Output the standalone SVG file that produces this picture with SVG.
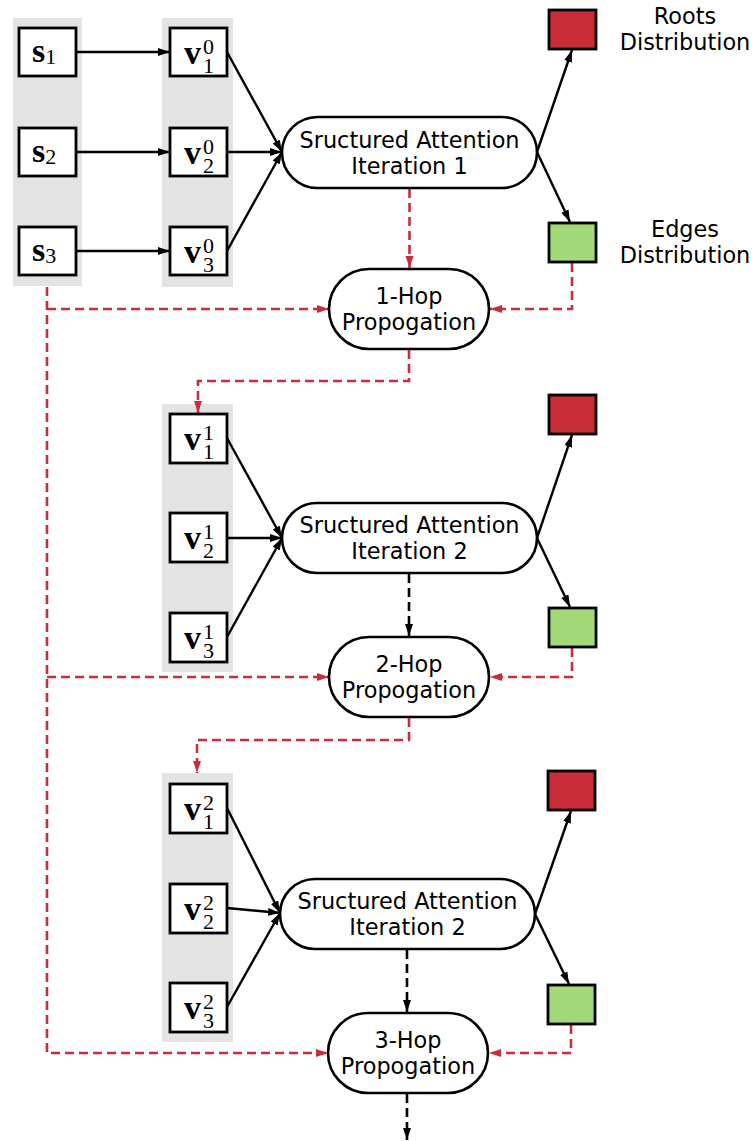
<svg xmlns="http://www.w3.org/2000/svg" width="754" height="1141" viewBox="0 0 754 1141">
<style>
.strip{fill:#e3e3e3}
.box{fill:#fff;stroke:#000;stroke-width:2.8}
.stad{fill:#fff;stroke:#000;stroke-width:2.6}
.red{fill:#c92d39;stroke:#000;stroke-width:2.8}
.green{fill:#a3d977;stroke:#000;stroke-width:2.8}
.lbl{font-family:"DejaVu Sans",Verdana,sans-serif;font-size:22.4px;fill:#000;text-anchor:middle}
.m{font-family:"Liberation Serif","Times New Roman",serif;fill:#000}
.mb{font-size:34px;font-weight:bold}
.ms{font-size:22px}
.c{fill:none;stroke:#000;stroke-width:2.4}
.cd{fill:none;stroke:#000;stroke-width:2.6;stroke-dasharray:9,5}
.rd{fill:none;stroke:#c92d39;stroke-width:2.6;stroke-dasharray:9,5}
</style>
<defs>
<marker id="ab" markerUnits="userSpaceOnUse" markerWidth="13" markerHeight="9" refX="12" refY="4" orient="auto"><path d="M0,0 L12,4 L0,8 z" fill="#000"/></marker>
<marker id="ar" markerUnits="userSpaceOnUse" markerWidth="13" markerHeight="9" refX="12" refY="4" orient="auto"><path d="M0,0 L12,4 L0,8 z" fill="#c92d39"/></marker>
</defs>

<g id="strips">
<rect class="strip" x="13" y="18" width="69" height="268"/>
<rect class="strip" x="162" y="18" width="71" height="269"/>
<rect class="strip" x="162" y="404" width="71" height="268"/>
<rect class="strip" x="162" y="773" width="71" height="269"/>
</g>

<g id="connectors">
<line class="c" x1="76" y1="52" x2="170" y2="52" marker-end="url(#ab)"/>
<line class="c" x1="76" y1="152" x2="170" y2="152" marker-end="url(#ab)"/>
<line class="c" x1="76" y1="251" x2="170" y2="251" marker-end="url(#ab)"/>
<line class="c" x1="227" y1="52" x2="282" y2="152" marker-end="url(#ab)"/>
<line class="c" x1="227" y1="152" x2="282" y2="152" marker-end="url(#ab)"/>
<line class="c" x1="227" y1="251" x2="282" y2="152" marker-end="url(#ab)"/>
<line class="c" x1="227" y1="438" x2="282" y2="538" marker-end="url(#ab)"/>
<line class="c" x1="227" y1="538" x2="282" y2="538" marker-end="url(#ab)"/>
<line class="c" x1="227" y1="637" x2="282" y2="538" marker-end="url(#ab)"/>
<line class="c" x1="227" y1="808" x2="280" y2="913" marker-end="url(#ab)"/>
<line class="c" x1="227" y1="908" x2="280" y2="913" marker-end="url(#ab)"/>
<line class="c" x1="227" y1="1007" x2="280" y2="913" marker-end="url(#ab)"/>
<line class="c" x1="537" y1="152" x2="572" y2="50" marker-end="url(#ab)"/>
<line class="c" x1="537" y1="152" x2="570" y2="222" marker-end="url(#ab)"/>
<line class="c" x1="537" y1="538" x2="572" y2="435" marker-end="url(#ab)"/>
<line class="c" x1="537" y1="538" x2="570" y2="607" marker-end="url(#ab)"/>
<line class="c" x1="535" y1="914" x2="571" y2="811" marker-end="url(#ab)"/>
<line class="c" x1="535" y1="914" x2="569" y2="984" marker-end="url(#ab)"/>
<line class="rd" x1="409.5" y1="189" x2="409.5" y2="268" marker-end="url(#ar)"/>
<line class="cd" x1="409" y1="574" x2="409" y2="636" marker-end="url(#ab)"/>
<line class="cd" x1="407" y1="950" x2="407" y2="1012" marker-end="url(#ab)"/>
<line class="cd" x1="407" y1="1094" x2="407" y2="1140" marker-end="url(#ab)"/>
<polyline class="rd" points="572,263 572,309 490,309" marker-end="url(#ar)"/>
<polyline class="rd" points="572,648 572,677 490,677" marker-end="url(#ar)"/>
<polyline class="rd" points="571,1025 571,1053 489,1053" marker-end="url(#ar)"/>
<polyline class="rd" points="47,287 47,1053 328,1053" marker-end="url(#ar)"/>
<line class="rd" x1="47" y1="309" x2="329" y2="309" marker-end="url(#ar)"/>
<line class="rd" x1="47" y1="677" x2="329" y2="677" marker-end="url(#ar)"/>
<polyline class="rd" points="409,350 409,381 198,381 198,413" marker-end="url(#ar)"/>
<polyline class="rd" points="409,718 409,740 197,740 197,773" marker-end="url(#ar)"/>
</g>

<g id="s1"><rect class="box" x="19" y="28" width="57" height="48"/><text class="m" x="32" y="62"><tspan class="mb">s</tspan><tspan class="ms" dy="2">1</tspan></text></g>
<g id="s2"><rect class="box" x="19" y="128" width="57" height="48"/><text class="m" x="32" y="162"><tspan class="mb">s</tspan><tspan class="ms" dy="2">2</tspan></text></g>
<g id="s3"><rect class="box" x="19" y="227" width="57" height="48"/><text class="m" x="32" y="261"><tspan class="mb">s</tspan><tspan class="ms" dy="2">3</tspan></text></g>

<g id="v01"><rect class="box" x="170" y="28" width="57" height="48"/><text class="m mb" x="184" y="64">v</text><text class="m ms" x="203" y="54">0</text><text class="m ms" x="203" y="73">1</text></g>
<g id="v02"><rect class="box" x="170" y="128" width="57" height="48"/><text class="m mb" x="184" y="164">v</text><text class="m ms" x="203" y="154">0</text><text class="m ms" x="203" y="173">2</text></g>
<g id="v03"><rect class="box" x="170" y="227" width="57" height="48"/><text class="m mb" x="184" y="263">v</text><text class="m ms" x="203" y="253">0</text><text class="m ms" x="203" y="272">3</text></g>

<g id="v11"><rect class="box" x="170" y="414" width="57" height="49"/><text class="m mb" x="184" y="450">v</text><text class="m ms" x="203" y="440">1</text><text class="m ms" x="203" y="459">1</text></g>
<g id="v12"><rect class="box" x="170" y="513" width="57" height="49"/><text class="m mb" x="184" y="549">v</text><text class="m ms" x="203" y="539">1</text><text class="m ms" x="203" y="558">2</text></g>
<g id="v13"><rect class="box" x="170" y="613" width="57" height="49"/><text class="m mb" x="184" y="649">v</text><text class="m ms" x="203" y="639">1</text><text class="m ms" x="203" y="658">3</text></g>

<g id="v21"><rect class="box" x="170" y="784" width="57" height="49"/><text class="m mb" x="184" y="820">v</text><text class="m ms" x="203" y="810">2</text><text class="m ms" x="203" y="829">1</text></g>
<g id="v22"><rect class="box" x="170" y="884" width="57" height="49"/><text class="m mb" x="184" y="920">v</text><text class="m ms" x="203" y="910">2</text><text class="m ms" x="203" y="929">2</text></g>
<g id="v23"><rect class="box" x="170" y="983" width="57" height="49"/><text class="m mb" x="184" y="1019">v</text><text class="m ms" x="203" y="1009">2</text><text class="m ms" x="203" y="1028">3</text></g>

<g id="att1"><rect class="stad" x="282" y="117" width="255" height="71" rx="35.5"/><text class="lbl" x="409.5" y="148">Sructured Attention</text><text class="lbl" x="409.5" y="174">Iteration 1</text></g>
<g id="att2"><rect class="stad" x="282" y="503" width="255" height="70" rx="35"/><text class="lbl" x="409.5" y="533">Sructured Attention</text><text class="lbl" x="409.5" y="559">Iteration 2</text></g>
<g id="att3"><rect class="stad" x="280" y="879" width="255" height="70" rx="35"/><text class="lbl" x="407.5" y="909">Sructured Attention</text><text class="lbl" x="407.5" y="935">Iteration 2</text></g>

<g id="hop1"><rect class="stad" x="329" y="269" width="160" height="80" rx="40"/><text class="lbl" x="409" y="304">1-Hop</text><text class="lbl" x="409" y="330">Propogation</text></g>
<g id="hop2"><rect class="stad" x="329" y="637" width="160" height="80" rx="40"/><text class="lbl" x="409" y="672">2-Hop</text><text class="lbl" x="409" y="698">Propogation</text></g>
<g id="hop3"><rect class="stad" x="328" y="1013" width="160" height="80" rx="40"/><text class="lbl" x="408" y="1048">3-Hop</text><text class="lbl" x="408" y="1074">Propogation</text></g>

<g id="roots1"><rect class="red" x="549" y="10" width="47" height="39"/></g>
<g id="edges1"><rect class="green" x="549" y="223" width="47" height="39"/></g>
<g id="roots2"><rect class="red" x="549" y="395" width="47" height="39"/></g>
<g id="edges2"><rect class="green" x="549" y="608" width="47" height="39"/></g>
<g id="roots3"><rect class="red" x="548" y="771" width="47" height="39"/></g>
<g id="edges3"><rect class="green" x="548" y="985" width="47" height="39"/></g>

<g id="legend">
<text class="lbl" x="685" y="24">Roots</text>
<text class="lbl" x="685" y="50">Distribution</text>
<text class="lbl" x="685" y="237">Edges</text>
<text class="lbl" x="685" y="263">Distribution</text>
</g>
</svg>
